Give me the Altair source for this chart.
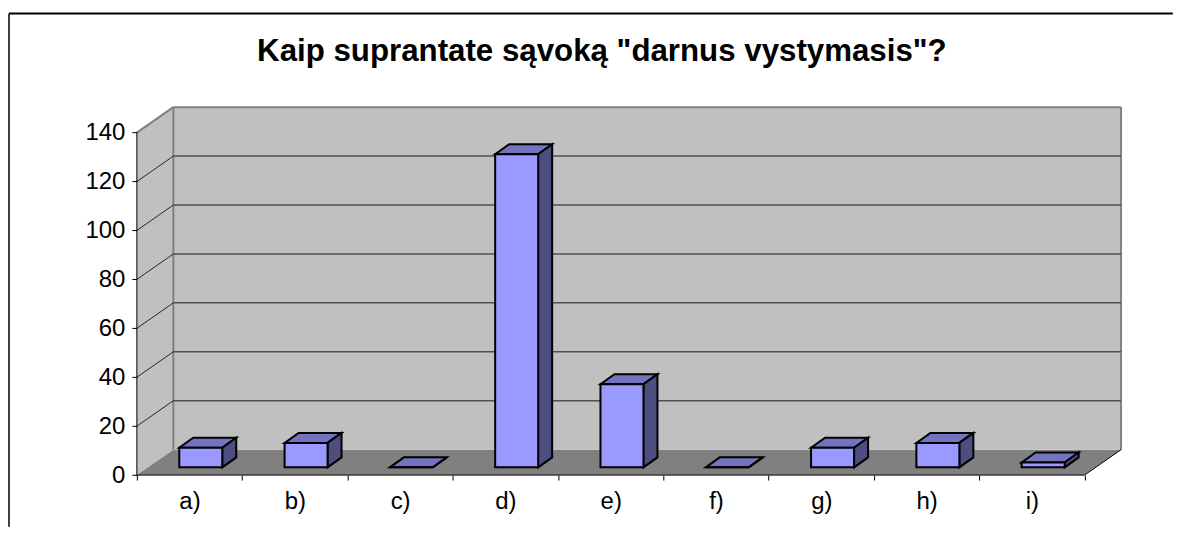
import altair as alt
import pandas as pd

TITLE = 'Kaip suprantate sąvoką "darnus vystymasis"?'
categories = ["a)", "b)", "c)", "d)", "e)", "f)", "g)", "h)", "i)"]
values = [8, 10, 0, 128, 34, 0, 8, 10, 2]
y_ticks = [0, 20, 40, 60, 80, 100, 120, 140]
grid_values = [20, 40, 60, 80, 100, 120, 140]

# depth of the 3-D box, in data units of each axis
DX, DY = 36.5 / 105.33, 25.5 / 2.45
YMAX = 140
XMAX = len(categories)
BAR_W = 43 / 105.33
BAR_DX, BAR_DY = 14 / 105.33, 10 / 2.45

x_scale = alt.Scale(domain=[0, XMAX + DX], nice=False, zero=False)
y_scale = alt.Scale(domain=[0, YMAX + DY], nice=False, zero=False)

label_list = "[" + ",".join(f"'{c}'" for c in categories) + "]"
x_axis = alt.Axis(
    values=[i / 2 for i in range(2 * XMAX + 1)],
    domain=False, grid=False, tickSize=5, tickColor="#000000",
    tickOpacity={"condition": {"test": "datum.value % 1 == 0", "value": 1}, "value": 0},
    labelExpr=f"datum.value % 1 == 0.5 ? {label_list}[floor(datum.value)] : ''",
    labelFontSize=24, labelFont="Liberation Sans", labelColor="#000000",
    labelPadding=9, labelOverlap=False, labelBound=False, labelFlush=False,
    labelAngle=0, zindex=1,
)
y_axis = alt.Axis(
    values=y_ticks, domain=False, grid=False, tickSize=5, tickColor="#000000",
    labelFontSize=24, labelFont="Liberation Sans", labelColor="#000000",
    labelPadding=7, labelOverlap=False, labelBound=False, labelFlush=False,
    zindex=1,
)


def X():
    return alt.X("x:Q", scale=x_scale, axis=x_axis, title=None)


def Y():
    return alt.Y("y:Q", scale=y_scale, axis=y_axis, title=None)


def area_layer(rows, color, stroke=None, width=0):
    kw = dict(fill=color, strokeJoin="miter")
    if stroke:
        kw.update(stroke=stroke, strokeWidth=width)
    return (
        alt.Chart(pd.DataFrame(rows))
        .mark_area(**kw)
        .encode(X(), Y(), y2="y2:Q", detail="id:N")
    )


def rule_layer(rows, color, width):
    return (
        alt.Chart(pd.DataFrame(rows))
        .mark_rule(color=color, strokeWidth=width)
        .encode(X(), Y(), x2="x2:Q", y2="y2:Q")
    )


# walls and floor
side_wall = area_layer(
    [dict(id="s", x=0, y=0, y2=YMAX), dict(id="s", x=DX, y=DY, y2=YMAX + DY)],
    "#C0C0C0",
)
floor = area_layer(
    [
        dict(id="f", x=0, y=0, y2=0),
        dict(id="f", x=DX, y=0, y2=DY),
        dict(id="f", x=XMAX, y=0, y2=DY),
        dict(id="f", x=XMAX + DX, y=DY, y2=DY),
    ],
    "#808080",
)
back_wall = area_layer(
    [dict(id="b", x=DX, y=DY, y2=YMAX + DY), dict(id="b", x=XMAX + DX, y=DY, y2=YMAX + DY)],
    "#C0C0C0",
)

wall_edges = rule_layer(
    [
        dict(x=DX, y=DY, x2=DX, y2=YMAX + DY),
        dict(x=DX, y=YMAX + DY, x2=XMAX + DX, y2=YMAX + DY),
        dict(x=XMAX + DX, y=DY, x2=XMAX + DX, y2=YMAX + DY),
        dict(x=0, y=YMAX, x2=DX, y2=YMAX + DY),
    ],
    "#808080", 2,
)
back_grid = rule_layer(
    [dict(x=DX, y=v + DY, x2=XMAX + DX, y2=v + DY) for v in grid_values[:-1]],
    "#505050", 1.5,
)
side_grid = rule_layer(
    [dict(x=0, y=v, x2=DX, y2=v + DY) for v in grid_values[:-1]],
    "#000000", 0.8,
)
front_edges = rule_layer(
    [
        dict(x=0, y=0, x2=0, y2=YMAX),
        dict(x=0, y=0, x2=XMAX, y2=0),
        dict(x=XMAX, y=0, x2=XMAX + DX, y2=DY),
    ],
    "#000000", 1,
)

# bars
front_rows, top_rows, side_rows = [], [], []
for i, v in enumerate(values):
    x0 = i + 0.5 + DX / 2 - BAR_W / 2 - BAR_DX / 2
    x1 = x0 + BAR_W
    b = DY / 2 - BAR_DY / 2
    t = b + v
    front_rows.append(dict(x=x0, x2=x1, y=b, y2=t))
    top_rows += [
        dict(id=i, x=x0, y=t, y2=t),
        dict(id=i, x=x0 + BAR_DX, y=t, y2=t + BAR_DY),
        dict(id=i, x=x1, y=t, y2=t + BAR_DY),
        dict(id=i, x=x1 + BAR_DX, y=t + BAR_DY, y2=t + BAR_DY),
    ]
    side_rows += [
        dict(id=i, x=x1, y=b, y2=t),
        dict(id=i, x=x1 + BAR_DX, y=b + BAR_DY, y2=t + BAR_DY),
    ]

bar_front = (
    alt.Chart(pd.DataFrame(front_rows))
    .mark_rect(fill="#9999FF", stroke="#000000", strokeWidth=2)
    .encode(X(), Y(), x2="x2:Q", y2="y2:Q")
)
bar_top = area_layer(top_rows, "#7373BF", "#000000", 2)
bar_side = area_layer(side_rows, "#4D4D80", "#000000", 2)

# outer frame (top and left borders only)
frame_top = alt.Chart(pd.DataFrame([{"a": 0}])).mark_rule(color="#000000", strokeWidth=2).encode(
    x=alt.value(-128), x2=alt.value(1037), y=alt.value(-93.7), y2=alt.value(-93.7)
)
frame_left = alt.Chart(pd.DataFrame([{"a": 0}])).mark_rule(color="#000000", strokeWidth=1.5).encode(
    x=alt.value(-128), x2=alt.value(-128), y=alt.value(-93.7), y2=alt.value(420)
)
title_text = (
    alt.Chart(pd.DataFrame([{"t": TITLE}]))
    .mark_text(font="Liberation Sans", fontSize=31.3, fontWeight="bold", color="#000000",
               align="center", baseline="alphabetic")
    .encode(text="t:N", x=alt.value(465.5), y=alt.value(-46.5))
)

chart = (
    alt.layer(
        side_wall, floor, back_wall, wall_edges, back_grid, side_grid,
        front_edges, bar_top, bar_side, bar_front, frame_top, frame_left, title_text,
    )
    .properties(
        width=985.2,
        height=368.3,
        padding={"left": 0, "top": 4, "right": 0, "bottom": 0},
        autosize=alt.AutoSizeParams(type="pad"),
    )
    .configure_view(stroke=None)
)

chart.save("out.html", embed_options={"renderer": "svg", "actions": False})
